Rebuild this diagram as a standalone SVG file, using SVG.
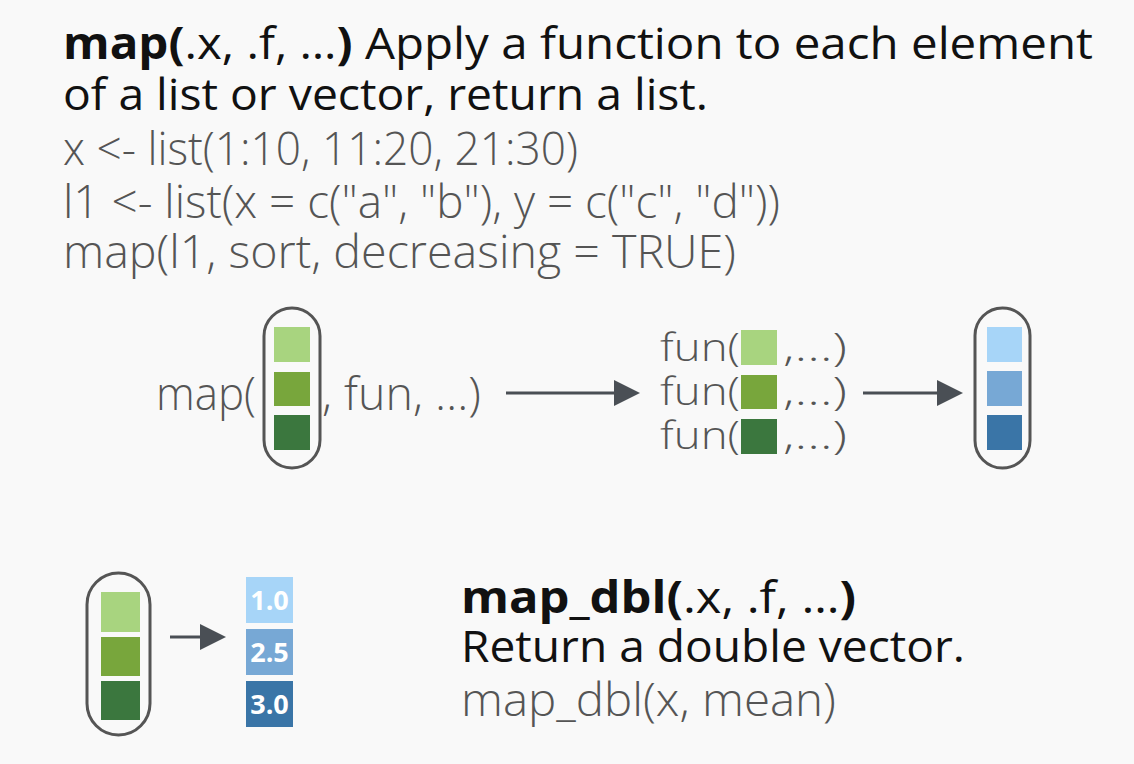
<svg xmlns="http://www.w3.org/2000/svg" width="1134" height="764" viewBox="0 0 1134 764">
  <defs>
    <style>
      .head { font-family: "Open Sans", "Liberation Sans", sans-serif; font-size: 44px; fill: #111; }
      .b { font-weight: 700; }
      .code { font-family: "Open Sans", "Liberation Sans", sans-serif; font-size: 46px; font-weight: 300; fill: #555; }
      .fun { font-family: "Open Sans", "Liberation Sans", sans-serif; font-size: 39px; font-weight: 300; fill: #555; }
      .pill { fill: none; stroke: #555; stroke-width: 3; }
      .g1 { fill: #a8d47f; }
      .g2 { fill: #78a63c; }
      .g3 { fill: #3b773e; }
      .b1 { fill: #a7d5f8; }
      .b2 { fill: #77a8d5; }
      .b3 { fill: #3a75a7; }
      .num { font-family: "Open Sans", "Liberation Sans", sans-serif; font-size: 27px; font-weight: 700; fill: #fff; text-anchor: middle; }
      .arrow { stroke: #4a4f55; stroke-width: 3; fill: none; }
      .head-tip { fill: #4a4f55; }
    </style>
    <marker id="tip" viewBox="0 0 26 26" refX="0" refY="13" markerWidth="26" markerHeight="26" markerUnits="userSpaceOnUse" orient="auto">
      <path d="M0,0 L26,13 L0,26 z" class="head-tip"/>
    </marker>
  </defs>
  <rect width="1134" height="764" fill="#f9f9f9"/>

  <g id="header">
    <text class="head" x="63" y="59" textLength="1030" lengthAdjust="spacingAndGlyphs"><tspan class="b">map(</tspan>.x, .f, …<tspan class="b">)</tspan> Apply a function to each element</text>
    <text class="head" x="63" y="110" textLength="645" lengthAdjust="spacingAndGlyphs">of a list or vector, return a list.</text>
    <text class="code" x="63" y="165" textLength="515" lengthAdjust="spacingAndGlyphs">x &lt;- list(1:10, 11:20, 21:30)</text>
    <text class="code" x="63" y="218" textLength="717" lengthAdjust="spacingAndGlyphs">l1 &lt;- list(x = c("a", "b"), y = c("c", "d"))</text>
    <text class="code" x="63" y="268" textLength="673" lengthAdjust="spacingAndGlyphs">map(l1, sort, decreasing = TRUE)</text>
  </g>

  <g id="map-call">
    <text class="code" x="156" y="410" textLength="100" lengthAdjust="spacingAndGlyphs">map(</text>
    <rect class="pill" x="264" y="308" width="56" height="160" rx="28"/>
    <rect class="g1" x="274" y="327" width="36" height="35"/>
    <rect class="g2" x="274" y="372" width="36" height="34"/>
    <rect class="g3" x="274" y="415" width="36" height="35"/>
    <text class="code" x="322" y="410" textLength="159" lengthAdjust="spacingAndGlyphs">, fun, …)</text>
  </g>

  <g id="fun-calls">
    <text class="fun" x="660" y="361" textLength="80" lengthAdjust="spacingAndGlyphs">fun(</text>
    <rect class="g1" x="741" y="330" width="36" height="35"/>
    <text class="fun" x="783" y="361" textLength="64" lengthAdjust="spacingAndGlyphs">,…)</text>
    <text class="fun" x="660" y="405" textLength="80" lengthAdjust="spacingAndGlyphs">fun(</text>
    <rect class="g2" x="741" y="375" width="36" height="34"/>
    <text class="fun" x="783" y="405" textLength="64" lengthAdjust="spacingAndGlyphs">,…)</text>
    <text class="fun" x="660" y="449" textLength="80" lengthAdjust="spacingAndGlyphs">fun(</text>
    <rect class="g3" x="741" y="419" width="36" height="35"/>
    <text class="fun" x="783" y="449" textLength="64" lengthAdjust="spacingAndGlyphs">,…)</text>
  </g>

  <g id="result-list">
    <rect class="pill" x="975" y="308" width="55" height="160" rx="27.5"/>
    <rect class="b1" x="987" y="327" width="35" height="35"/>
    <rect class="b2" x="987" y="371" width="35" height="35"/>
    <rect class="b3" x="987" y="415" width="35" height="35"/>
  </g>

  <g id="input-list">
    <rect class="pill" x="87" y="573" width="63" height="162" rx="31.5"/>
    <rect class="g1" x="101" y="592" width="39" height="40"/>
    <rect class="g2" x="101" y="637" width="39" height="39"/>
    <rect class="g3" x="101" y="681" width="39" height="39"/>
  </g>

  <g id="double-vector">
    <rect class="b1" x="246" y="577" width="47" height="46"/>
    <text class="num" x="269.5" y="610">1.0</text>
    <rect class="b2" x="246" y="629" width="47" height="46"/>
    <text class="num" x="269.5" y="662">2.5</text>
    <rect class="b3" x="246" y="681" width="47" height="46"/>
    <text class="num" x="269.5" y="714">3.0</text>
  </g>

  <g id="map-dbl-text">
    <text class="head" x="461" y="613" textLength="395" lengthAdjust="spacingAndGlyphs"><tspan class="b">map_dbl(</tspan>.x, .f, …<tspan class="b">)</tspan></text>
    <text class="head" x="461" y="662" textLength="504" lengthAdjust="spacingAndGlyphs">Return a double vector.</text>
    <text class="code" x="461" y="716" textLength="375" lengthAdjust="spacingAndGlyphs">map_dbl(x, mean)</text>
  </g>

  <g id="connectors">
    <line class="arrow" x1="506" y1="393" x2="614" y2="393" marker-end="url(#tip)"/>
    <line class="arrow" x1="863" y1="393" x2="937" y2="393" marker-end="url(#tip)"/>
    <line class="arrow" x1="170" y1="637" x2="200" y2="637" marker-end="url(#tip)"/>
  </g>
</svg>
